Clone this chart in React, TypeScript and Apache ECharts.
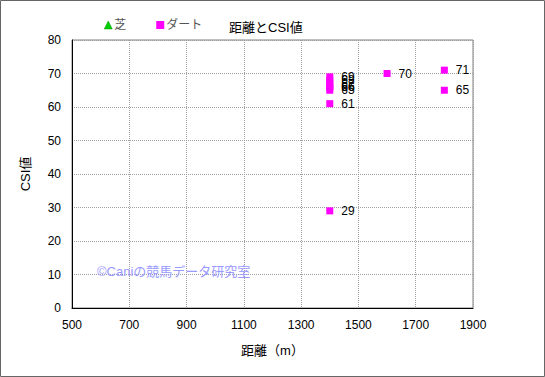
import React, { useEffect, useRef } from "react";
import * as echarts from "echarts";

const turfDistances: number[] = [];
const turfCSI: number[] = [];
const dirtDistances = [1400, 1400, 1400, 1400, 1400, 1400, 1400, 1400, 1600, 1800, 1800];
const dirtCSI = [69, 68, 67, 66, 66, 65, 61, 29, 70, 71, 65];
const xTicks = [500, 700, 900, 1100, 1300, 1500, 1700, 1900];
const yTicks = [0, 10, 20, 30, 40, 50, 60, 70, 80];

const FONT = '"Liberation Sans", "Noto Sans CJK JP", sans-serif';

export default function App() {
  const ref = useRef<HTMLDivElement>(null);
  useEffect(() => {
    document.body.style.margin = "0";
    const chart = echarts.init(ref.current!, null, { renderer: "svg" });
    const turf = turfDistances.map((d, i) => [d, turfCSI[i]]);
    const dirt = dirtDistances.map((d, i) => [d, dirtCSI[i]]);
    chart.setOption({
      animation: false,
      backgroundColor: "#fff",
      textStyle: { fontFamily: FONT },
      title: {
        text: "距離とCSI値",
        left: 224,
        top: 16,
        textStyle: { fontSize: 13, fontWeight: "normal", color: "#000", fontFamily: FONT },
      },
      legend: {
        left: 99,
        top: 14,
        itemGap: 30,
        itemWidth: 8,
        itemHeight: 8,
        textStyle: { fontSize: 12, color: "#555", fontFamily: FONT, padding: [0, 0, 0, -3] },
        data: [
          { name: "芝", icon: "triangle", itemStyle: { color: "#00d000", borderColor: "#009000", borderWidth: 0.5 } },
          { name: "ダート", icon: "rect", itemStyle: { color: "#ff00ff", borderWidth: 0 } },
        ],
      },
      grid: { left: 72, right: 72, top: 40, bottom: 69, show: true, borderColor: "#808080", borderWidth: 1 },
      xAxis: {
        type: "value",
        min: xTicks[0],
        max: xTicks[xTicks.length - 1],
        interval: 200,
        name: "距離（m）",
        nameLocation: "middle",
        nameGap: 36,
        nameTextStyle: { fontSize: 13, color: "#000", fontFamily: FONT },
        axisLine: { lineStyle: { color: "#000" } },
        axisTick: { show: false },
        axisLabel: { fontSize: 12, color: "#000", margin: 11, fontFamily: FONT, formatter: (v: number) => String(v) },
        splitLine: { lineStyle: { color: "#a0a0a0", type: [1, 1] } },
      },
      yAxis: {
        type: "value",
        min: yTicks[0],
        max: yTicks[yTicks.length - 1],
        interval: 10,
        name: "CSI値",
        nameLocation: "middle",
        nameGap: 40,
        nameTextStyle: { fontSize: 13, color: "#000", fontFamily: FONT },
        axisLine: { show: true, lineStyle: { color: "#000" } },
        axisTick: { show: false },
        axisLabel: { fontSize: 12, color: "#000", margin: 11, fontFamily: FONT },
        splitLine: { lineStyle: { color: "#a0a0a0", type: [1, 1] } },
      },
      series: [
        {
          name: "芝",
          type: "scatter",
          symbol: "triangle",
          symbolSize: 8,
          itemStyle: { color: "#00d000", borderColor: "#009000", borderWidth: 0.5, opacity: 1 },
          data: turf,
        },
        {
          name: "ダート",
          type: "scatter",
          symbol: "rect",
          symbolSize: 7,
          itemStyle: { color: "#ff00ff", opacity: 1 },
          label: {
            show: true,
            position: "right",
            distance: 8,
            fontSize: 12,
            color: "#000",
            fontFamily: FONT,
            formatter: (p: any) => String(p.value[1]),
          },
          data: dirt,
        },
      ],
      graphic: [
        {
          type: "rect",
          shape: { x: 0.5, y: 0.5, width: 544, height: 376 },
          style: { fill: "none", stroke: "#666", lineWidth: 1 },
          silent: true,
        },
        {
          type: "text",
          left: 97,
          top: 265,
          style: {
            text: "©Caniの競馬データ研究室",
            fill: "#9999ff",
            fontSize: 13,
            fontFamily: FONT,
          },
          z: 100,
        },
      ],
    });
    return () => chart.dispose();
  }, []);
  return <div ref={ref} style={{ width: 545, height: 377 }} />;
}
